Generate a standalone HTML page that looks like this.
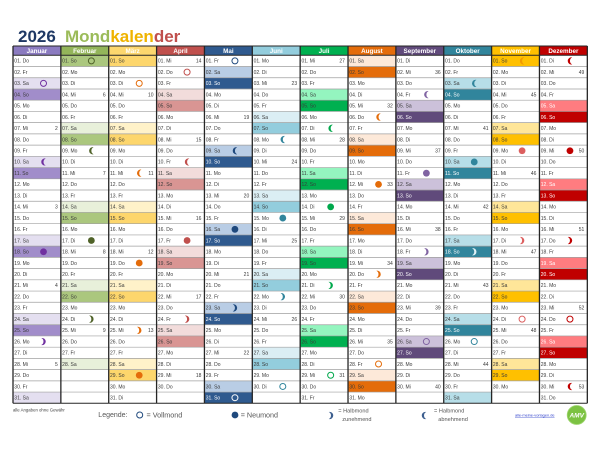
<!DOCTYPE html>
<html><head><meta charset="utf-8"><style>
html,body{margin:0;padding:0;background:#fff;}
svg{display:block;font-family:"Liberation Sans",Arial,sans-serif;}
.d{font-size:5px;fill:#3a3a3a;}
.w{font-size:5px;fill:#3a3a3a;text-anchor:end;}
.h{font-size:6.3px;font-weight:bold;fill:#fff;text-anchor:middle;}
</style></head><body>
<svg width="600" height="450" viewBox="0 0 600 450" xmlns="http://www.w3.org/2000/svg">
<defs>
<circle id="fm" r="3" fill="none" stroke="currentColor" stroke-width="1"/>
<circle id="nm" r="3.4" fill="currentColor"/>
<path id="wa" d="M2.2,-3.5 A3.6,3.6 0 1 0 2.2,3.5 A3.9,3.9 0 0 1 2.2,-3.5Z" fill="currentColor"/>
<path id="wx" d="M-2.2,-3.5 A3.6,3.6 0 1 1 -2.2,3.5 A3.9,3.9 0 0 0 -2.2,-3.5Z" fill="currentColor"/>
</defs>
<rect width="600" height="450" fill="#fff"/>
<!-- title -->
<text x="18" y="42" font-size="17" font-weight="bold" fill="#1f3864">2026</text>
<text x="65" y="42" font-size="17" font-weight="bold"><tspan fill="#9bbb59">Mond</tspan><tspan fill="#efb300">kalen</tspan><tspan fill="#c0504d">der</tspan></text>

<!-- headers -->
<rect x="13" y="46" width="47.86" height="9.3" fill="#8b7bc0"/>
<rect x="60.86" y="46" width="47.86" height="9.3" fill="#93b55a"/>
<rect x="108.72" y="46" width="47.86" height="9.3" fill="#fdd76e"/>
<rect x="156.58" y="46" width="47.86" height="9.3" fill="#c0504d"/>
<rect x="204.44" y="46" width="47.86" height="9.3" fill="#2f5a8f"/>
<rect x="252.3" y="46" width="47.86" height="9.3" fill="#93cddd"/>
<rect x="300.16" y="46" width="47.86" height="9.3" fill="#00b050"/>
<rect x="348.02" y="46" width="47.86" height="9.3" fill="#e46c0a"/>
<rect x="395.88" y="46" width="47.86" height="9.3" fill="#604a7b"/>
<rect x="443.74" y="46" width="47.86" height="9.3" fill="#31859c"/>
<rect x="491.6" y="46" width="47.86" height="9.3" fill="#ffc000"/>
<rect x="539.46" y="46" width="47.86" height="9.3" fill="#c00000"/>
<text class="h" x="36.93" y="53.2">Januar</text>
<text class="h" x="84.79" y="53.2">Februar</text>
<text class="h" x="132.65" y="53.2">März</text>
<text class="h" x="180.51" y="53.2">April</text>
<text class="h" x="228.37" y="53.2">Mai</text>
<text class="h" x="276.23" y="53.2">Juni</text>
<text class="h" x="324.09" y="53.2">Juli</text>
<text class="h" x="371.95" y="53.2">August</text>
<text class="h" x="419.81" y="53.2">September</text>
<text class="h" x="467.67" y="53.2">Oktober</text>
<text class="h" x="515.53" y="53.2">November</text>
<text class="h" x="563.39" y="53.2">Dezember</text>

<!-- JANUAR -->
<g transform="translate(13,0)">
<g fill="#e4dff0"><rect y="77.75" width="47.9" height="11.23"/><rect y="156.33" width="47.9" height="11.23"/><rect y="234.92" width="47.9" height="11.23"/><rect y="313.5" width="47.9" height="11.23"/><rect y="392.08" width="47.9" height="11.23"/></g>
<g fill="#a18dca"><rect y="88.98" width="47.9" height="11.23"/><rect y="167.56" width="47.9" height="11.23"/><rect y="246.14" width="47.9" height="11.23"/><rect y="324.72" width="47.9" height="11.23"/></g>
<text class="d" y="62.7"><tspan x="1.3">01. Do</tspan><tspan x="1.3" dy="11.226">02. Fr</tspan><tspan x="1.3" dy="11.226">03. Sa</tspan><tspan x="1.3" dy="11.226">04. So</tspan><tspan x="1.3" dy="11.226">05. Mo</tspan><tspan x="1.3" dy="11.226">06. Di</tspan><tspan x="1.3" dy="11.226">07. Mi</tspan><tspan x="1.3" dy="11.226">08. Do</tspan><tspan x="1.3" dy="11.226">09. Fr</tspan><tspan x="1.3" dy="11.226">10. Sa</tspan><tspan x="1.3" dy="11.226">11. So</tspan><tspan x="1.3" dy="11.226">12. Mo</tspan><tspan x="1.3" dy="11.226">13. Di</tspan><tspan x="1.3" dy="11.226">14. Mi</tspan><tspan x="1.3" dy="11.226">15. Do</tspan><tspan x="1.3" dy="11.226">16. Fr</tspan><tspan x="1.3" dy="11.226">17. Sa</tspan><tspan x="1.3" dy="11.226">18. So</tspan><tspan x="1.3" dy="11.226">19. Mo</tspan><tspan x="1.3" dy="11.226">20. Di</tspan><tspan x="1.3" dy="11.226">21. Mi</tspan><tspan x="1.3" dy="11.226">22. Do</tspan><tspan x="1.3" dy="11.226">23. Fr</tspan><tspan x="1.3" dy="11.226">24. Sa</tspan><tspan x="1.3" dy="11.226">25. So</tspan><tspan x="1.3" dy="11.226">26. Mo</tspan><tspan x="1.3" dy="11.226">27. Di</tspan><tspan x="1.3" dy="11.226">28. Mi</tspan><tspan x="1.3" dy="11.226">29. Do</tspan><tspan x="1.3" dy="11.226">30. Fr</tspan><tspan x="1.3" dy="11.226">31. Sa</tspan></text>
<g class="w"><text x="44.8" y="130.06">2</text><text x="44.8" y="208.64">3</text><text x="44.8" y="287.22">4</text><text x="44.8" y="365.8">5</text></g>
<g color="#7030a0"><use href="#fm" x="30.5" y="83.36"/><use href="#wa" x="30.5" y="161.94"/><use href="#nm" x="30.5" y="251.75"/><use href="#wx" x="30.5" y="341.56"/></g>
</g>

<!-- FEBRUAR -->
<g transform="translate(60.86,0)">
<g fill="#e8f0da"><rect y="122.66" width="47.9" height="11.23"/><rect y="201.24" width="47.9" height="11.23"/><rect y="279.82" width="47.9" height="11.23"/><rect y="358.4" width="47.9" height="11.23"/></g>
<g fill="#abc77e"><rect y="55.3" width="47.9" height="11.23"/><rect y="133.88" width="47.9" height="11.23"/><rect y="212.46" width="47.9" height="11.23"/><rect y="291.05" width="47.9" height="11.23"/></g>
<text class="d" y="62.7"><tspan x="1.3">01. So</tspan><tspan x="1.3" dy="11.226">02. Mo</tspan><tspan x="1.3" dy="11.226">03. Di</tspan><tspan x="1.3" dy="11.226">04. Mi</tspan><tspan x="1.3" dy="11.226">05. Do</tspan><tspan x="1.3" dy="11.226">06. Fr</tspan><tspan x="1.3" dy="11.226">07. Sa</tspan><tspan x="1.3" dy="11.226">08. So</tspan><tspan x="1.3" dy="11.226">09. Mo</tspan><tspan x="1.3" dy="11.226">10. Di</tspan><tspan x="1.3" dy="11.226">11. Mi</tspan><tspan x="1.3" dy="11.226">12. Do</tspan><tspan x="1.3" dy="11.226">13. Fr</tspan><tspan x="1.3" dy="11.226">14. Sa</tspan><tspan x="1.3" dy="11.226">15. So</tspan><tspan x="1.3" dy="11.226">16. Mo</tspan><tspan x="1.3" dy="11.226">17. Di</tspan><tspan x="1.3" dy="11.226">18. Mi</tspan><tspan x="1.3" dy="11.226">19. Do</tspan><tspan x="1.3" dy="11.226">20. Fr</tspan><tspan x="1.3" dy="11.226">21. Sa</tspan><tspan x="1.3" dy="11.226">22. So</tspan><tspan x="1.3" dy="11.226">23. Mo</tspan><tspan x="1.3" dy="11.226">24. Di</tspan><tspan x="1.3" dy="11.226">25. Mi</tspan><tspan x="1.3" dy="11.226">26. Do</tspan><tspan x="1.3" dy="11.226">27. Fr</tspan><tspan x="1.3" dy="11.226">28. Sa</tspan></text>
<g class="w"><text x="44.8" y="96.38">6</text><text x="44.8" y="174.96">7</text><text x="44.8" y="253.54">8</text><text x="44.8" y="332.12">9</text></g>
<g color="#4f6228"><use href="#fm" x="30.5" y="60.91"/><use href="#wa" x="30.5" y="150.72"/><use href="#nm" x="30.5" y="240.53"/><use href="#wx" x="30.5" y="319.11"/></g>
</g>

<!-- MÄRZ -->
<g transform="translate(108.72,0)">
<g fill="#fff2c9"><rect y="122.66" width="47.9" height="11.23"/><rect y="201.24" width="47.9" height="11.23"/><rect y="279.82" width="47.9" height="11.23"/><rect y="358.4" width="47.9" height="11.23"/></g>
<g fill="#fdd66c"><rect y="55.3" width="47.9" height="11.23"/><rect y="133.88" width="47.9" height="11.23"/><rect y="212.46" width="47.9" height="11.23"/><rect y="291.05" width="47.9" height="11.23"/><rect y="369.63" width="47.9" height="11.23"/></g>
<text class="d" y="62.7"><tspan x="1.3">01. So</tspan><tspan x="1.3" dy="11.226">02. Mo</tspan><tspan x="1.3" dy="11.226">03. Di</tspan><tspan x="1.3" dy="11.226">04. Mi</tspan><tspan x="1.3" dy="11.226">05. Do</tspan><tspan x="1.3" dy="11.226">06. Fr</tspan><tspan x="1.3" dy="11.226">07. Sa</tspan><tspan x="1.3" dy="11.226">08. So</tspan><tspan x="1.3" dy="11.226">09. Mo</tspan><tspan x="1.3" dy="11.226">10. Di</tspan><tspan x="1.3" dy="11.226">11. Mi</tspan><tspan x="1.3" dy="11.226">12. Do</tspan><tspan x="1.3" dy="11.226">13. Fr</tspan><tspan x="1.3" dy="11.226">14. Sa</tspan><tspan x="1.3" dy="11.226">15. So</tspan><tspan x="1.3" dy="11.226">16. Mo</tspan><tspan x="1.3" dy="11.226">17. Di</tspan><tspan x="1.3" dy="11.226">18. Mi</tspan><tspan x="1.3" dy="11.226">19. Do</tspan><tspan x="1.3" dy="11.226">20. Fr</tspan><tspan x="1.3" dy="11.226">21. Sa</tspan><tspan x="1.3" dy="11.226">22. So</tspan><tspan x="1.3" dy="11.226">23. Mo</tspan><tspan x="1.3" dy="11.226">24. Di</tspan><tspan x="1.3" dy="11.226">25. Mi</tspan><tspan x="1.3" dy="11.226">26. Do</tspan><tspan x="1.3" dy="11.226">27. Fr</tspan><tspan x="1.3" dy="11.226">28. Sa</tspan><tspan x="1.3" dy="11.226">29. So</tspan><tspan x="1.3" dy="11.226">30. Mo</tspan><tspan x="1.3" dy="11.226">31. Di</tspan></text>
<g class="w"><text x="44.8" y="96.38">10</text><text x="44.8" y="174.96">11</text><text x="44.8" y="253.54">12</text><text x="44.8" y="332.12">13</text></g>
<g color="#e46c0a"><use href="#fm" x="30.5" y="83.36"/><use href="#wa" x="30.5" y="173.17"/><use href="#nm" x="30.5" y="262.98"/><use href="#wx" x="30.5" y="330.33"/><use href="#nm" x="30.5" y="375.24"/></g>
</g>

<!-- APRIL -->
<g transform="translate(156.58,0)">
<g fill="#f2dcdb"><rect y="88.98" width="47.9" height="11.23"/><rect y="167.56" width="47.9" height="11.23"/><rect y="246.14" width="47.9" height="11.23"/><rect y="324.72" width="47.9" height="11.23"/></g>
<g fill="#d99593"><rect y="100.2" width="47.9" height="11.23"/><rect y="178.79" width="47.9" height="11.23"/><rect y="257.37" width="47.9" height="11.23"/><rect y="335.95" width="47.9" height="11.23"/></g>
<text class="d" y="62.7"><tspan x="1.3">01. Mi</tspan><tspan x="1.3" dy="11.226">02. Do</tspan><tspan x="1.3" dy="11.226">03. Fr</tspan><tspan x="1.3" dy="11.226">04. Sa</tspan><tspan x="1.3" dy="11.226">05. So</tspan><tspan x="1.3" dy="11.226">06. Mo</tspan><tspan x="1.3" dy="11.226">07. Di</tspan><tspan x="1.3" dy="11.226">08. Mi</tspan><tspan x="1.3" dy="11.226">09. Do</tspan><tspan x="1.3" dy="11.226">10. Fr</tspan><tspan x="1.3" dy="11.226">11. Sa</tspan><tspan x="1.3" dy="11.226">12. So</tspan><tspan x="1.3" dy="11.226">13. Mo</tspan><tspan x="1.3" dy="11.226">14. Di</tspan><tspan x="1.3" dy="11.226">15. Mi</tspan><tspan x="1.3" dy="11.226">16. Do</tspan><tspan x="1.3" dy="11.226">17. Fr</tspan><tspan x="1.3" dy="11.226">18. Sa</tspan><tspan x="1.3" dy="11.226">19. So</tspan><tspan x="1.3" dy="11.226">20. Mo</tspan><tspan x="1.3" dy="11.226">21. Di</tspan><tspan x="1.3" dy="11.226">22. Mi</tspan><tspan x="1.3" dy="11.226">23. Do</tspan><tspan x="1.3" dy="11.226">24. Fr</tspan><tspan x="1.3" dy="11.226">25. Sa</tspan><tspan x="1.3" dy="11.226">26. So</tspan><tspan x="1.3" dy="11.226">27. Mo</tspan><tspan x="1.3" dy="11.226">28. Di</tspan><tspan x="1.3" dy="11.226">29. Mi</tspan><tspan x="1.3" dy="11.226">30. Do</tspan></text>
<g class="w"><text x="44.8" y="62.7">14</text><text x="44.8" y="141.28">15</text><text x="44.8" y="219.86">16</text><text x="44.8" y="298.45">17</text><text x="44.8" y="377.03">18</text></g>
<g color="#c0504d"><use href="#fm" x="30.5" y="72.14"/><use href="#wa" x="30.5" y="161.94"/><use href="#nm" x="30.5" y="240.53"/><use href="#wx" x="30.5" y="319.11"/></g>
</g>

<!-- MAI -->
<g transform="translate(204.44,0)">
<g fill="#b9cde5"><rect y="66.53" width="47.9" height="11.23"/><rect y="145.11" width="47.9" height="11.23"/><rect y="223.69" width="47.9" height="11.23"/><rect y="302.27" width="47.9" height="11.23"/><rect y="380.85" width="47.9" height="11.23"/></g>
<g fill="#2f5a8f"><rect y="77.75" width="47.9" height="11.23"/><rect y="156.33" width="47.9" height="11.23"/><rect y="234.92" width="47.9" height="11.23"/><rect y="313.5" width="47.9" height="11.23"/><rect y="392.08" width="47.9" height="11.23"/></g>
<text class="d" y="62.7"><tspan x="1.3">01. Fr</tspan><tspan x="1.3" dy="11.226">02. Sa</tspan><tspan x="1.3" dy="11.226" fill="#fff">03. So</tspan><tspan x="1.3" dy="11.226">04. Mo</tspan><tspan x="1.3" dy="11.226">05. Di</tspan><tspan x="1.3" dy="11.226">06. Mi</tspan><tspan x="1.3" dy="11.226">07. Do</tspan><tspan x="1.3" dy="11.226">08. Fr</tspan><tspan x="1.3" dy="11.226">09. Sa</tspan><tspan x="1.3" dy="11.226" fill="#fff">10. So</tspan><tspan x="1.3" dy="11.226">11. Mo</tspan><tspan x="1.3" dy="11.226">12. Di</tspan><tspan x="1.3" dy="11.226">13. Mi</tspan><tspan x="1.3" dy="11.226">14. Do</tspan><tspan x="1.3" dy="11.226">15. Fr</tspan><tspan x="1.3" dy="11.226">16. Sa</tspan><tspan x="1.3" dy="11.226" fill="#fff">17. So</tspan><tspan x="1.3" dy="11.226">18. Mo</tspan><tspan x="1.3" dy="11.226">19. Di</tspan><tspan x="1.3" dy="11.226">20. Mi</tspan><tspan x="1.3" dy="11.226">21. Do</tspan><tspan x="1.3" dy="11.226">22. Fr</tspan><tspan x="1.3" dy="11.226">23. Sa</tspan><tspan x="1.3" dy="11.226" fill="#fff">24. So</tspan><tspan x="1.3" dy="11.226">25. Mo</tspan><tspan x="1.3" dy="11.226">26. Di</tspan><tspan x="1.3" dy="11.226">27. Mi</tspan><tspan x="1.3" dy="11.226">28. Do</tspan><tspan x="1.3" dy="11.226">29. Fr</tspan><tspan x="1.3" dy="11.226">30. Sa</tspan><tspan x="1.3" dy="11.226" fill="#fff">31. So</tspan></text>
<g class="w"><text x="44.8" y="118.83">19</text><text x="44.8" y="197.41">20</text><text x="44.8" y="275.99">21</text><text x="44.8" y="354.58">22</text></g>
<g color="#1f497d"><use href="#fm" x="30.5" y="60.91"/><use href="#wa" x="30.5" y="150.72"/><use href="#nm" x="30.5" y="229.3"/><use href="#wx" x="30.5" y="307.88"/></g>
<use href="#fm" x="30.5" y="397.69" color="#fff"/>
</g>

<!-- JUNI -->
<g transform="translate(252.3,0)">
<g fill="#dbeef4"><rect y="111.43" width="47.9" height="11.23"/><rect y="190.01" width="47.9" height="11.23"/><rect y="268.59" width="47.9" height="11.23"/><rect y="347.18" width="47.9" height="11.23"/></g>
<g fill="#93cddd"><rect y="122.66" width="47.9" height="11.23"/><rect y="201.24" width="47.9" height="11.23"/><rect y="279.82" width="47.9" height="11.23"/><rect y="358.4" width="47.9" height="11.23"/></g>
<text class="d" y="62.7"><tspan x="1.3">01. Mo</tspan><tspan x="1.3" dy="11.226">02. Di</tspan><tspan x="1.3" dy="11.226">03. Mi</tspan><tspan x="1.3" dy="11.226">04. Do</tspan><tspan x="1.3" dy="11.226">05. Fr</tspan><tspan x="1.3" dy="11.226">06. Sa</tspan><tspan x="1.3" dy="11.226">07. So</tspan><tspan x="1.3" dy="11.226">08. Mo</tspan><tspan x="1.3" dy="11.226">09. Di</tspan><tspan x="1.3" dy="11.226">10. Mi</tspan><tspan x="1.3" dy="11.226">11. Do</tspan><tspan x="1.3" dy="11.226">12. Fr</tspan><tspan x="1.3" dy="11.226">13. Sa</tspan><tspan x="1.3" dy="11.226">14. So</tspan><tspan x="1.3" dy="11.226">15. Mo</tspan><tspan x="1.3" dy="11.226">16. Di</tspan><tspan x="1.3" dy="11.226">17. Mi</tspan><tspan x="1.3" dy="11.226">18. Do</tspan><tspan x="1.3" dy="11.226">19. Fr</tspan><tspan x="1.3" dy="11.226">20. Sa</tspan><tspan x="1.3" dy="11.226">21. So</tspan><tspan x="1.3" dy="11.226">22. Mo</tspan><tspan x="1.3" dy="11.226">23. Di</tspan><tspan x="1.3" dy="11.226">24. Mi</tspan><tspan x="1.3" dy="11.226">25. Do</tspan><tspan x="1.3" dy="11.226">26. Fr</tspan><tspan x="1.3" dy="11.226">27. Sa</tspan><tspan x="1.3" dy="11.226">28. So</tspan><tspan x="1.3" dy="11.226">29. Mo</tspan><tspan x="1.3" dy="11.226">30. Di</tspan></text>
<g class="w"><text x="44.8" y="85.15">23</text><text x="44.8" y="163.73">24</text><text x="44.8" y="242.32">25</text><text x="44.8" y="320.9">26</text></g>
<g color="#31859c"><use href="#wa" x="30.5" y="139.49"/><use href="#nm" x="30.5" y="218.07"/><use href="#wx" x="30.5" y="296.66"/><use href="#fm" x="30.5" y="386.46"/></g>
</g>

<!-- JULI -->
<g transform="translate(300.16,0)">
<g fill="#94f5bf"><rect y="88.98" width="47.9" height="11.23"/><rect y="167.56" width="47.9" height="11.23"/><rect y="246.14" width="47.9" height="11.23"/><rect y="324.72" width="47.9" height="11.23"/></g>
<g fill="#00b050"><rect y="100.2" width="47.9" height="11.23"/><rect y="178.79" width="47.9" height="11.23"/><rect y="257.37" width="47.9" height="11.23"/><rect y="335.95" width="47.9" height="11.23"/></g>
<text class="d" y="62.7"><tspan x="1.3">01. Mi</tspan><tspan x="1.3" dy="11.226">02. Do</tspan><tspan x="1.3" dy="11.226">03. Fr</tspan><tspan x="1.3" dy="11.226">04. Sa</tspan><tspan x="1.3" dy="11.226">05. So</tspan><tspan x="1.3" dy="11.226">06. Mo</tspan><tspan x="1.3" dy="11.226">07. Di</tspan><tspan x="1.3" dy="11.226">08. Mi</tspan><tspan x="1.3" dy="11.226">09. Do</tspan><tspan x="1.3" dy="11.226">10. Fr</tspan><tspan x="1.3" dy="11.226">11. Sa</tspan><tspan x="1.3" dy="11.226">12. So</tspan><tspan x="1.3" dy="11.226">13. Mo</tspan><tspan x="1.3" dy="11.226">14. Di</tspan><tspan x="1.3" dy="11.226">15. Mi</tspan><tspan x="1.3" dy="11.226">16. Do</tspan><tspan x="1.3" dy="11.226">17. Fr</tspan><tspan x="1.3" dy="11.226">18. Sa</tspan><tspan x="1.3" dy="11.226">19. So</tspan><tspan x="1.3" dy="11.226">20. Mo</tspan><tspan x="1.3" dy="11.226">21. Di</tspan><tspan x="1.3" dy="11.226">22. Mi</tspan><tspan x="1.3" dy="11.226">23. Do</tspan><tspan x="1.3" dy="11.226">24. Fr</tspan><tspan x="1.3" dy="11.226">25. Sa</tspan><tspan x="1.3" dy="11.226">26. So</tspan><tspan x="1.3" dy="11.226">27. Mo</tspan><tspan x="1.3" dy="11.226">28. Di</tspan><tspan x="1.3" dy="11.226">29. Mi</tspan><tspan x="1.3" dy="11.226">30. Do</tspan><tspan x="1.3" dy="11.226">31. Fr</tspan></text>
<g class="w"><text x="44.8" y="62.7">27</text><text x="44.8" y="141.28">28</text><text x="44.8" y="219.86">29</text><text x="44.8" y="298.45">30</text><text x="44.8" y="377.03">31</text></g>
<g color="#00a84c"><use href="#wa" x="30.5" y="128.27"/><use href="#nm" x="30.5" y="206.85"/><use href="#wx" x="30.5" y="285.43"/><use href="#fm" x="30.5" y="375.24"/></g>
</g>

<!-- AUGUST -->
<g transform="translate(348.02,0)">
<g fill="#fde9d9"><rect y="55.3" width="47.9" height="11.23"/><rect y="133.88" width="47.9" height="11.23"/><rect y="212.46" width="47.9" height="11.23"/><rect y="291.05" width="47.9" height="11.23"/><rect y="369.63" width="47.9" height="11.23"/></g>
<g fill="#e46c0a"><rect y="66.53" width="47.9" height="11.23"/><rect y="145.11" width="47.9" height="11.23"/><rect y="223.69" width="47.9" height="11.23"/><rect y="302.27" width="47.9" height="11.23"/><rect y="380.85" width="47.9" height="11.23"/></g>
<text class="d" y="62.7"><tspan x="1.3">01. Sa</tspan><tspan x="1.3" dy="11.226">02. So</tspan><tspan x="1.3" dy="11.226">03. Mo</tspan><tspan x="1.3" dy="11.226">04. Di</tspan><tspan x="1.3" dy="11.226">05. Mi</tspan><tspan x="1.3" dy="11.226">06. Do</tspan><tspan x="1.3" dy="11.226">07. Fr</tspan><tspan x="1.3" dy="11.226">08. Sa</tspan><tspan x="1.3" dy="11.226">09. So</tspan><tspan x="1.3" dy="11.226">10. Mo</tspan><tspan x="1.3" dy="11.226">11. Di</tspan><tspan x="1.3" dy="11.226">12. Mi</tspan><tspan x="1.3" dy="11.226">13. Do</tspan><tspan x="1.3" dy="11.226">14. Fr</tspan><tspan x="1.3" dy="11.226">15. Sa</tspan><tspan x="1.3" dy="11.226">16. So</tspan><tspan x="1.3" dy="11.226">17. Mo</tspan><tspan x="1.3" dy="11.226">18. Di</tspan><tspan x="1.3" dy="11.226">19. Mi</tspan><tspan x="1.3" dy="11.226">20. Do</tspan><tspan x="1.3" dy="11.226">21. Fr</tspan><tspan x="1.3" dy="11.226">22. Sa</tspan><tspan x="1.3" dy="11.226">23. So</tspan><tspan x="1.3" dy="11.226">24. Mo</tspan><tspan x="1.3" dy="11.226">25. Di</tspan><tspan x="1.3" dy="11.226">26. Mi</tspan><tspan x="1.3" dy="11.226">27. Do</tspan><tspan x="1.3" dy="11.226">28. Fr</tspan><tspan x="1.3" dy="11.226">29. Sa</tspan><tspan x="1.3" dy="11.226">30. So</tspan><tspan x="1.3" dy="11.226">31. Mo</tspan></text>
<g class="w"><text x="44.8" y="107.6">32</text><text x="44.8" y="186.19">33</text><text x="44.8" y="264.77">34</text><text x="44.8" y="343.35">35</text></g>
<g color="#e46c0a"><use href="#wa" x="30.5" y="117.04"/><use href="#nm" x="30.5" y="184.4"/><use href="#wx" x="30.5" y="274.2"/><use href="#fm" x="30.5" y="364.01"/></g>
</g>

<!-- SEPTEMBER -->
<g transform="translate(395.88,0)">
<g fill="#ccc1da"><rect y="100.2" width="47.9" height="11.23"/><rect y="178.79" width="47.9" height="11.23"/><rect y="257.37" width="47.9" height="11.23"/><rect y="335.95" width="47.9" height="11.23"/></g>
<g fill="#604a7b"><rect y="111.43" width="47.9" height="11.23"/><rect y="190.01" width="47.9" height="11.23"/><rect y="268.59" width="47.9" height="11.23"/><rect y="347.18" width="47.9" height="11.23"/></g>
<text class="d" y="62.7"><tspan x="1.3">01. Di</tspan><tspan x="1.3" dy="11.226">02. Mi</tspan><tspan x="1.3" dy="11.226">03. Do</tspan><tspan x="1.3" dy="11.226">04. Fr</tspan><tspan x="1.3" dy="11.226">05. Sa</tspan><tspan x="1.3" dy="11.226" fill="#fff">06. So</tspan><tspan x="1.3" dy="11.226">07. Mo</tspan><tspan x="1.3" dy="11.226">08. Di</tspan><tspan x="1.3" dy="11.226">09. Mi</tspan><tspan x="1.3" dy="11.226">10. Do</tspan><tspan x="1.3" dy="11.226">11. Fr</tspan><tspan x="1.3" dy="11.226">12. Sa</tspan><tspan x="1.3" dy="11.226" fill="#fff">13. So</tspan><tspan x="1.3" dy="11.226">14. Mo</tspan><tspan x="1.3" dy="11.226">15. Di</tspan><tspan x="1.3" dy="11.226">16. Mi</tspan><tspan x="1.3" dy="11.226">17. Do</tspan><tspan x="1.3" dy="11.226">18. Fr</tspan><tspan x="1.3" dy="11.226">19. Sa</tspan><tspan x="1.3" dy="11.226" fill="#fff">20. So</tspan><tspan x="1.3" dy="11.226">21. Mo</tspan><tspan x="1.3" dy="11.226">22. Di</tspan><tspan x="1.3" dy="11.226">23. Mi</tspan><tspan x="1.3" dy="11.226">24. Do</tspan><tspan x="1.3" dy="11.226">25. Fr</tspan><tspan x="1.3" dy="11.226">26. Sa</tspan><tspan x="1.3" dy="11.226" fill="#fff">27. So</tspan><tspan x="1.3" dy="11.226">28. Mo</tspan><tspan x="1.3" dy="11.226">29. Di</tspan><tspan x="1.3" dy="11.226">30. Mi</tspan></text>
<g class="w"><text x="44.8" y="73.93">36</text><text x="44.8" y="152.51">37</text><text x="44.8" y="231.09">38</text><text x="44.8" y="309.67">39</text><text x="44.8" y="388.25">40</text></g>
<g color="#8064a2"><use href="#wa" x="30.5" y="94.59"/><use href="#nm" x="30.5" y="173.17"/><use href="#wx" x="30.5" y="251.75"/><use href="#fm" x="30.5" y="341.56"/></g>
</g>

<!-- OKTOBER -->
<g transform="translate(443.74,0)">
<g fill="#b7dee8"><rect y="77.75" width="47.9" height="11.23"/><rect y="156.33" width="47.9" height="11.23"/><rect y="234.92" width="47.9" height="11.23"/><rect y="313.5" width="47.9" height="11.23"/><rect y="392.08" width="47.9" height="11.23"/></g>
<g fill="#31859c"><rect y="88.98" width="47.9" height="11.23"/><rect y="167.56" width="47.9" height="11.23"/><rect y="246.14" width="47.9" height="11.23"/><rect y="324.72" width="47.9" height="11.23"/></g>
<text class="d" y="62.7"><tspan x="1.3">01. Do</tspan><tspan x="1.3" dy="11.226">02. Fr</tspan><tspan x="1.3" dy="11.226">03. Sa</tspan><tspan x="1.3" dy="11.226" fill="#fff">04. So</tspan><tspan x="1.3" dy="11.226">05. Mo</tspan><tspan x="1.3" dy="11.226">06. Di</tspan><tspan x="1.3" dy="11.226">07. Mi</tspan><tspan x="1.3" dy="11.226">08. Do</tspan><tspan x="1.3" dy="11.226">09. Fr</tspan><tspan x="1.3" dy="11.226">10. Sa</tspan><tspan x="1.3" dy="11.226" fill="#fff">11. So</tspan><tspan x="1.3" dy="11.226">12. Mo</tspan><tspan x="1.3" dy="11.226">13. Di</tspan><tspan x="1.3" dy="11.226">14. Mi</tspan><tspan x="1.3" dy="11.226">15. Do</tspan><tspan x="1.3" dy="11.226">16. Fr</tspan><tspan x="1.3" dy="11.226">17. Sa</tspan><tspan x="1.3" dy="11.226" fill="#fff">18. So</tspan><tspan x="1.3" dy="11.226">19. Mo</tspan><tspan x="1.3" dy="11.226">20. Di</tspan><tspan x="1.3" dy="11.226">21. Mi</tspan><tspan x="1.3" dy="11.226">22. Do</tspan><tspan x="1.3" dy="11.226">23. Fr</tspan><tspan x="1.3" dy="11.226">24. Sa</tspan><tspan x="1.3" dy="11.226" fill="#fff">25. So</tspan><tspan x="1.3" dy="11.226">26. Mo</tspan><tspan x="1.3" dy="11.226">27. Di</tspan><tspan x="1.3" dy="11.226">28. Mi</tspan><tspan x="1.3" dy="11.226">29. Do</tspan><tspan x="1.3" dy="11.226">30. Fr</tspan><tspan x="1.3" dy="11.226">31. Sa</tspan></text>
<g class="w"><text x="44.8" y="130.06">41</text><text x="44.8" y="208.64">42</text><text x="44.8" y="287.22">43</text><text x="44.8" y="365.8">44</text></g>
<g color="#31859c"><use href="#wa" x="30.5" y="83.36"/><use href="#nm" x="30.5" y="161.94"/><use href="#fm" x="30.5" y="341.56"/></g>
<use href="#wx" x="30.5" y="251.75" color="#dff2f7"/>
</g>

<!-- NOVEMBER -->
<g transform="translate(491.6,0)">
<g fill="#ffe699"><rect y="122.66" width="47.9" height="11.23"/><rect y="201.24" width="47.9" height="11.23"/><rect y="279.82" width="47.9" height="11.23"/><rect y="358.4" width="47.9" height="11.23"/></g>
<g fill="#ffc000"><rect y="55.3" width="47.9" height="11.23"/><rect y="133.88" width="47.9" height="11.23"/><rect y="212.46" width="47.9" height="11.23"/><rect y="291.05" width="47.9" height="11.23"/><rect y="369.63" width="47.9" height="11.23"/></g>
<text class="d" y="62.7"><tspan x="1.3">01. So</tspan><tspan x="1.3" dy="11.226">02. Mo</tspan><tspan x="1.3" dy="11.226">03. Di</tspan><tspan x="1.3" dy="11.226">04. Mi</tspan><tspan x="1.3" dy="11.226">05. Do</tspan><tspan x="1.3" dy="11.226">06. Fr</tspan><tspan x="1.3" dy="11.226">07. Sa</tspan><tspan x="1.3" dy="11.226">08. So</tspan><tspan x="1.3" dy="11.226">09. Mo</tspan><tspan x="1.3" dy="11.226">10. Di</tspan><tspan x="1.3" dy="11.226">11. Mi</tspan><tspan x="1.3" dy="11.226">12. Do</tspan><tspan x="1.3" dy="11.226">13. Fr</tspan><tspan x="1.3" dy="11.226">14. Sa</tspan><tspan x="1.3" dy="11.226">15. So</tspan><tspan x="1.3" dy="11.226">16. Mo</tspan><tspan x="1.3" dy="11.226">17. Di</tspan><tspan x="1.3" dy="11.226">18. Mi</tspan><tspan x="1.3" dy="11.226">19. Do</tspan><tspan x="1.3" dy="11.226">20. Fr</tspan><tspan x="1.3" dy="11.226">21. Sa</tspan><tspan x="1.3" dy="11.226">22. So</tspan><tspan x="1.3" dy="11.226">23. Mo</tspan><tspan x="1.3" dy="11.226">24. Di</tspan><tspan x="1.3" dy="11.226">25. Mi</tspan><tspan x="1.3" dy="11.226">26. Do</tspan><tspan x="1.3" dy="11.226">27. Fr</tspan><tspan x="1.3" dy="11.226">28. Sa</tspan><tspan x="1.3" dy="11.226">29. So</tspan><tspan x="1.3" dy="11.226">30. Mo</tspan></text>
<g class="w"><text x="44.8" y="96.38">45</text><text x="44.8" y="174.96">46</text><text x="44.8" y="253.54">47</text><text x="44.8" y="332.12">48</text></g>
<use href="#wa" x="30.5" y="60.91" color="#f29a00"/>
<g color="#dc5f5f"><use href="#nm" x="30.5" y="150.72"/><use href="#wx" x="30.5" y="240.53"/><use href="#fm" x="30.5" y="319.11"/></g>
</g>

<!-- DEZEMBER -->
<g transform="translate(539.46,0)">
<g fill="#ff7c80"><rect y="100.2" width="47.9" height="11.23"/><rect y="178.79" width="47.9" height="11.23"/><rect y="257.37" width="47.9" height="11.23"/><rect y="335.95" width="47.9" height="11.23"/></g>
<g fill="#c00000"><rect y="111.43" width="47.9" height="11.23"/><rect y="190.01" width="47.9" height="11.23"/><rect y="268.59" width="47.9" height="11.23"/><rect y="347.18" width="47.9" height="11.23"/></g>
<text class="d" y="62.7"><tspan x="1.3">01. Di</tspan><tspan x="1.3" dy="11.226">02. Mi</tspan><tspan x="1.3" dy="11.226">03. Do</tspan><tspan x="1.3" dy="11.226">04. Fr</tspan><tspan x="1.3" dy="11.226" fill="#fff">05. Sa</tspan><tspan x="1.3" dy="11.226" fill="#fff">06. So</tspan><tspan x="1.3" dy="11.226">07. Mo</tspan><tspan x="1.3" dy="11.226">08. Di</tspan><tspan x="1.3" dy="11.226">09. Mi</tspan><tspan x="1.3" dy="11.226">10. Do</tspan><tspan x="1.3" dy="11.226">11. Fr</tspan><tspan x="1.3" dy="11.226" fill="#fff">12. Sa</tspan><tspan x="1.3" dy="11.226" fill="#fff">13. So</tspan><tspan x="1.3" dy="11.226">14. Mo</tspan><tspan x="1.3" dy="11.226">15. Di</tspan><tspan x="1.3" dy="11.226">16. Mi</tspan><tspan x="1.3" dy="11.226">17. Do</tspan><tspan x="1.3" dy="11.226">18. Fr</tspan><tspan x="1.3" dy="11.226" fill="#fff">19. Sa</tspan><tspan x="1.3" dy="11.226" fill="#fff">20. So</tspan><tspan x="1.3" dy="11.226">21. Mo</tspan><tspan x="1.3" dy="11.226">22. Di</tspan><tspan x="1.3" dy="11.226">23. Mi</tspan><tspan x="1.3" dy="11.226">24. Do</tspan><tspan x="1.3" dy="11.226">25. Fr</tspan><tspan x="1.3" dy="11.226" fill="#fff">26. Sa</tspan><tspan x="1.3" dy="11.226" fill="#fff">27. So</tspan><tspan x="1.3" dy="11.226">28. Mo</tspan><tspan x="1.3" dy="11.226">29. Di</tspan><tspan x="1.3" dy="11.226">30. Mi</tspan><tspan x="1.3" dy="11.226">31. Do</tspan></text>
<g class="w"><text x="44.8" y="73.93">49</text><text x="44.8" y="152.51">50</text><text x="44.8" y="231.09">51</text><text x="44.8" y="309.67">52</text><text x="44.8" y="388.25">53</text></g>
<g color="#c00000"><use href="#wa" x="30.5" y="60.91"/><use href="#nm" x="30.5" y="150.72"/><use href="#wx" x="30.5" y="240.53"/><use href="#fm" x="30.5" y="319.11"/><use href="#wa" x="30.5" y="386.46"/></g>
</g>

<!-- grid lines -->
<path fill="none" stroke="#a0a0a0" stroke-width="0.7" d="M13,66.53H587.32M13,77.75H587.32M13,88.98H587.32M13,100.2H587.32M13,111.43H587.32M13,122.66H587.32M13,133.88H587.32M13,145.11H587.32M13,156.33H587.32M13,167.56H587.32M13,178.79H587.32M13,190.01H587.32M13,201.24H587.32M13,212.46H587.32M13,223.69H587.32M13,234.92H587.32M13,246.14H587.32M13,257.37H587.32M13,268.59H587.32M13,279.82H587.32M13,291.05H587.32M13,302.27H587.32M13,313.5H587.32M13,324.72H587.32M13,335.95H587.32M13,347.18H587.32M13,358.4H587.32M13,369.63H587.32M13,380.85H587.32M13,392.08H587.32"/>
<path fill="none" stroke="#262626" stroke-width="1" d="M13,46H587.32M13,55.3H587.32M13,403.31H587.32"/>
<path fill="none" stroke="#262626" stroke-width="1.3" d="M13,46V403.31M60.86,46V403.31M108.72,46V403.31M156.58,46V403.31M204.44,46V403.31M252.3,46V403.31M300.16,46V403.31M348.02,46V403.31M395.88,46V403.31M443.74,46V403.31M491.6,46V403.31M539.46,46V403.31M587.32,46V403.31"/>

<!-- footer / legend -->
<text x="13" y="411.5" font-size="4.3" fill="#444">alle Angaben ohne Gewähr</text>
<text x="98.3" y="417" font-size="7" fill="#555">Legende:</text>
<use href="#fm" x="139.7" y="415" color="#1f497d"/>
<text x="146.5" y="417.3" font-size="7.2" fill="#555">= Vollmond</text>
<use href="#nm" x="235" y="415" color="#1f497d"/>
<text x="240.7" y="417.3" font-size="7.2" fill="#555">= Neumond</text>
<use href="#wx" x="331" y="415.5" color="#3d5f8f"/>
<text x="338.3" y="412.3" font-size="5.6" fill="#555">= Halbmond</text>
<text x="342.3" y="421" font-size="5.6" fill="#555">zunehmend</text>
<use href="#wa" x="424" y="415.5" color="#3d5f8f"/>
<text x="434" y="412.3" font-size="5.6" fill="#555">= Halbmond</text>
<text x="438.3" y="421" font-size="5.6" fill="#555">abnehmend</text>
<text x="515" y="416.5" font-size="3.9" fill="#3344cc" text-decoration="underline">alle-meine-vorlagen.de</text>
<circle cx="576.7" cy="415" r="9.5" fill="#7cc242"/>
<circle cx="576.7" cy="415" r="9.5" fill="none" stroke="#9fd670" stroke-width="0.8"/>
<text x="576.7" y="417.3" font-size="6.5" font-weight="bold" font-style="italic" fill="#fff" text-anchor="middle">AMV</text>
</svg>
</body></html>
